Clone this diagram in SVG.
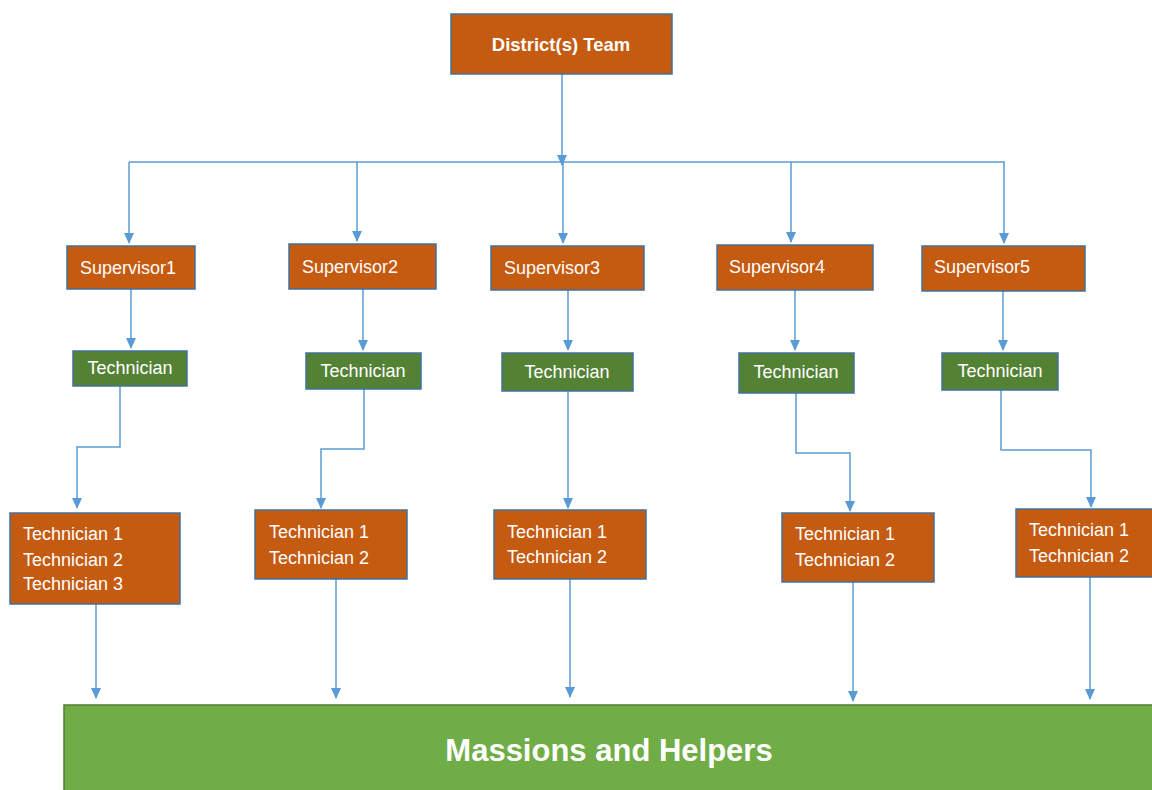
<svg xmlns="http://www.w3.org/2000/svg" width="1152" height="790" viewBox="0 0 1152 790">
<style>
.box{fill:#C55A11;stroke:#41719C;stroke-width:1.5}
.tech{fill:#548235;stroke:#41719C;stroke-width:1.5}
.base{fill:#70AD47;stroke:#507E32;stroke-width:1.5}
.t{font-family:"Liberation Sans",Arial,sans-serif;font-size:18px;fill:#FFFFFF}
.b{font-weight:bold}
.c{text-anchor:middle}
.con{fill:none;stroke:#5B9BD5;stroke-width:1.5}
.arr{fill:none;stroke:#5B9BD5;stroke-width:1.5;marker-end:url(#ah)}
</style>
<defs>
<marker id="ah" markerUnits="userSpaceOnUse" markerWidth="11" markerHeight="10" refX="10" refY="5" orient="auto" viewBox="0 0 11 10">
<path d="M0,0 L11,5 L0,10 Z" fill="#5B9BD5"/>
</marker>
</defs>
<rect width="1152" height="790" fill="#FFFFFF"/>
<g id="connectors">
<path class="arr" d="M562,74 V165"/>
<path class="con" d="M129,162 H1005"/>
<path class="arr" d="M129,162 V243"/>
<path class="arr" d="M357,162 V241"/>
<path class="arr" d="M563,163 V243"/>
<path class="arr" d="M791,162 V242"/>
<path class="arr" d="M1004,162 V243"/>
<path class="arr" d="M131,289 V348"/>
<path class="arr" d="M363,289 V350"/>
<path class="arr" d="M568,290 V350"/>
<path class="arr" d="M795,290 V350"/>
<path class="arr" d="M1003,291 V350"/>
<path class="arr" d="M120,386 V447 H77 V508"/>
<path class="arr" d="M364,389 V449 H321 V508"/>
<path class="arr" d="M568,391 V508"/>
<path class="arr" d="M796,392 V453 H850 V511"/>
<path class="arr" d="M1001,390 V450 H1091 V507"/>
<path class="arr" d="M96,604 V698"/>
<path class="arr" d="M336,579 V698"/>
<path class="arr" d="M570,579 V697"/>
<path class="arr" d="M853,582 V701"/>
<path class="arr" d="M1090,577 V699"/>
</g>
<g id="district">
<rect class="box" x="451" y="14" width="221" height="60"/>
<text class="t b c" x="561" y="51" style="font-size:18.5px">District(s) Team</text>
</g>
<g id="supervisor1">
<rect class="box" x="67" y="246" width="128" height="43"/>
<text class="t" x="80" y="274">Supervisor1</text>
</g>
<g id="supervisor2">
<rect class="box" x="289" y="244" width="147" height="45"/>
<text class="t" x="302" y="273">Supervisor2</text>
</g>
<g id="supervisor3">
<rect class="box" x="491" y="246" width="153" height="44"/>
<text class="t" x="504" y="274">Supervisor3</text>
</g>
<g id="supervisor4">
<rect class="box" x="717" y="245" width="156" height="45"/>
<text class="t" x="729" y="273">Supervisor4</text>
</g>
<g id="supervisor5">
<rect class="box" x="922" y="246" width="163" height="45"/>
<text class="t" x="934" y="273">Supervisor5</text>
</g>
<g id="technician-a">
<rect class="tech" x="73" y="351" width="114" height="35"/>
<text class="t c" x="130" y="374">Technician</text>
</g>
<g id="technician-b">
<rect class="tech" x="306" y="353" width="115" height="36"/>
<text class="t c" x="363" y="377">Technician</text>
</g>
<g id="technician-c">
<rect class="tech" x="502" y="353" width="131" height="38"/>
<text class="t c" x="567" y="378">Technician</text>
</g>
<g id="technician-d">
<rect class="tech" x="739" y="353" width="115" height="40"/>
<text class="t c" x="796" y="378">Technician</text>
</g>
<g id="technician-e">
<rect class="tech" x="942" y="353" width="116" height="37"/>
<text class="t c" x="1000" y="377">Technician</text>
</g>
<g id="team1">
<rect class="box" x="10" y="513" width="170" height="91"/>
<text class="t" x="23" y="540">Technician 1</text>
<text class="t" x="23" y="566">Technician 2</text>
<text class="t" x="23" y="590">Technician 3</text>
</g>
<g id="team2">
<rect class="box" x="255" y="510" width="152" height="69"/>
<text class="t" x="269" y="538">Technician 1</text>
<text class="t" x="269" y="564">Technician 2</text>
</g>
<g id="team3">
<rect class="box" x="494" y="510" width="152" height="69"/>
<text class="t" x="507" y="538">Technician 1</text>
<text class="t" x="507" y="563">Technician 2</text>
</g>
<g id="team4">
<rect class="box" x="782" y="513" width="152" height="69"/>
<text class="t" x="795" y="540">Technician 1</text>
<text class="t" x="795" y="566">Technician 2</text>
</g>
<g id="team5">
<rect class="box" x="1016" y="509" width="140" height="68"/>
<text class="t" x="1029" y="536">Technician 1</text>
<text class="t" x="1029" y="562">Technician 2</text>
</g>
<g id="massions">
<rect class="base" x="64" y="705" width="1095" height="90"/>
<text class="t b c" x="609" y="761" style="font-size:31px">Massions and Helpers</text>
</g>
</svg>
